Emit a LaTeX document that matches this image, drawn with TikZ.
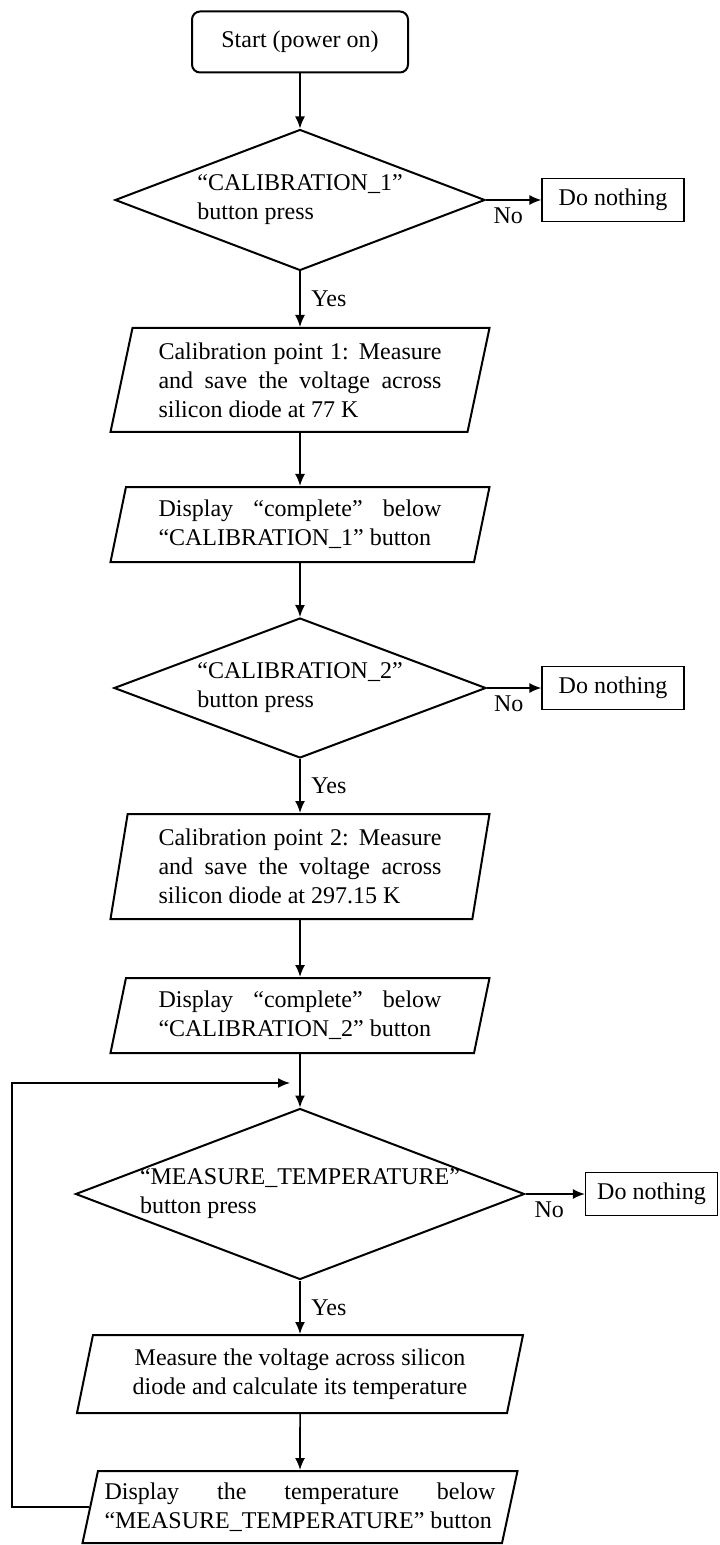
\documentclass[tikz,border=0pt]{standalone}
\usepackage{fontspec}
\setmainfont{Liberation Serif}
\usetikzlibrary{shapes.geometric, arrows.meta}

\begin{document}
\begin{tikzpicture}[x=0.5pt, y=-0.5pt, >={Latex[length=6pt, width=5pt]}, line width=0.8pt,
            font=\fontsize{12pt}{14.5pt}\selectfont,
            term/.style={draw, rounded corners=4pt, minimum width=108pt, minimum height=30.5pt, line width=1pt},
            dec/.style={diamond, draw, align=left, inner sep=0pt, aspect=2.62, line width=1pt},
            io/.style={trapezium, trapezium left angle=76, trapezium right angle=104, trapezium stretches body,
                draw, inner xsep=2pt, line width=1pt, minimum width=189.5pt},
            dn/.style={draw, minimum width=71pt, minimum height=21.5pt, line width=0.6pt}
          ]
        \useasboundingbox (0,0) rectangle (719,1545);
        \node[term] (start) at (300,42) {Start (power on)};
        \node[dec, minimum width=185pt, minimum height=70.5pt] (d1) at (300,200) {“CALIBRATION\_1”\\button press};
        \node[dn] (n1) at (613,200) {Do nothing};
        \node[io, minimum height=52pt, text width=141.5pt, align=justify] (p1) at (300,380)
            {Calibration point 1: Measure\linebreak and save the voltage across\linebreak silicon diode at 77 K};
        \node[io, minimum height=37.5pt, text width=141.5pt, align=justify] (p2) at (300,524.5)
            {Display “complete” below\linebreak “CALIBRATION\_1” button};
        \node[dec, minimum width=186pt, minimum height=70pt] (d2) at (300,688) {“CALIBRATION\_2”\\button press};
        \node[dn] (n2) at (613,688) {Do nothing};
        \node[io, trapezium left angle=79, trapezium right angle=101, minimum height=52.5pt, text width=141.5pt, align=justify] (p3) at (300,866.5)
            {Calibration point 2: Measure\linebreak and save the voltage across\linebreak silicon diode at 297.15 K};
        \node[io, minimum height=37.5pt, text width=141.5pt, align=justify] (p4) at (300,1015.5)
            {Display “complete” below\linebreak “CALIBRATION\_2” button};
        \node[dec, inner sep=-3pt, aspect=2.63, minimum width=224.5pt, minimum height=85.5pt] (d3) at (300,1194) {“MEASURE\_TEMPERATURE”\\button press};
        \node[dn, minimum width=66pt] (n3) at (651.5,1194) {Do nothing};
        \node[io, minimum width=223pt, minimum height=39pt, align=center] (p5) at (300,1374)
            {Measure the voltage across silicon\\diode and calculate its temperature};
        \node[io, minimum width=217.5pt, minimum height=36pt, text width=195.5pt, align=justify] (p6) at (300,1507)
            {Display the temperature below\linebreak “MEASURE\_TEMPERATURE” button};
        \coordinate (corner) at (12,1083);
        \coordinate (merge) at (290,1083);
        \draw[->] (start) -- (d1);
        \draw[->] (d1) -- node[right, xshift=2pt] (yes1) {Yes} (p1);
        \draw[->] (d1) -- node[below, pos=0.4] (no1) {No} (n1);
        \draw[->] (p1) -- (p2);
        \draw[->] (p2) -- (d2);
        \draw[->] (d2) -- node[right, xshift=2pt] (yes2) {Yes} (p3);
        \draw[->] (d2) -- node[below, pos=0.4] (no2) {No} (n2);
        \draw[->] (p3) -- (p4);
        \draw[->] (p4) -- (d3);
        \draw[->] (d3) -- node[right, xshift=2pt] (yes3) {Yes} (p5);
        \draw[->] (d3) -- node[below, pos=0.4] (no3) {No} (n3);
        \draw[->] (p5) -- (p6);
        \draw[->] (p6.west) -| (corner) -- (merge);
    \end{tikzpicture}
\end{document}
